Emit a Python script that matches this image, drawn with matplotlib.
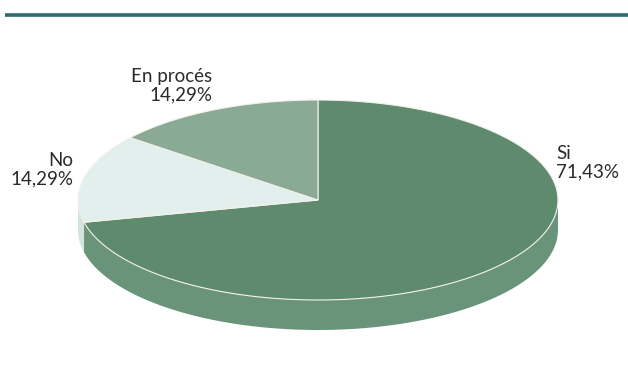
import numpy as np
import matplotlib.pyplot as plt
from matplotlib.patches import Polygon

# Dades del gràfic
labels = ['Si', 'No', 'En procés']
values = [71.43, 14.29, 14.29]
top_colors = ['#5e8a6d', '#e3efec', '#8aaa96']
side_colors = ['#6a9479', '#d3e3de', '#7f9f8b']

fig = plt.figure(figsize=(6.28, 3.65), dpi=100)
ax = fig.add_axes([0, 0, 1, 1])
ax.set_xlim(0, 628)
ax.set_ylim(365, 0)
ax.axis('off')

# línia superior
ax.plot([5, 628], [15, 15], color='#2f6b72', lw=2.6, solid_capstyle='butt')

cx, cy, a, b, depth = 318, 200, 240, 100, 30


def pt(theta, dy=0):
    t = np.radians(theta)
    return cx + a * np.cos(t), cy - b * np.sin(t) + dy


# angles: comença a dalt i va en sentit horari
fracs = np.array(values) / sum(values)
starts = 90 - 360 * np.concatenate([[0], np.cumsum(fracs)[:-1]])
ends = starts - 360 * fracs

# cara lateral (part frontal 180..360)
for s, e, col in zip(starts, ends, side_colors):
    lo, hi = e % 360, s % 360
    if hi <= lo:
        hi += 360
    for off in (0, 360):
        l = max(lo, 180 + off)
        h = min(hi, 360 + off)
        if h > l:
            th = np.linspace(l, h, 80)
            top = [pt(t) for t in th]
            bot = [pt(t, depth) for t in th[::-1]]
            ax.add_patch(Polygon(top + bot, closed=True, fc=col, ec='none'))

# cara superior
for s, e, col in zip(starts, ends, top_colors):
    th = np.linspace(s, e, 120)
    verts = [(cx, cy)] + [pt(t) for t in th]
    ax.add_patch(Polygon(verts, closed=True, fc=col, ec='#f2f2ea', lw=0.8))

font = dict(family=['Lato', 'DejaVu Sans'], fontsize=13.5, color='#2a2a2a')
ax.text(212, 103, 'En procés\n14,29%', ha='right', va='bottom', linespacing=1.05, **font)
ax.text(73, 187, 'No\n14,29%', ha='right', va='bottom', linespacing=1.05, **font)
ax.text(556, 180, 'Si\n71,43%', ha='left', va='bottom', linespacing=1.05, **font)

fig.savefig('out.png', dpi=100)
